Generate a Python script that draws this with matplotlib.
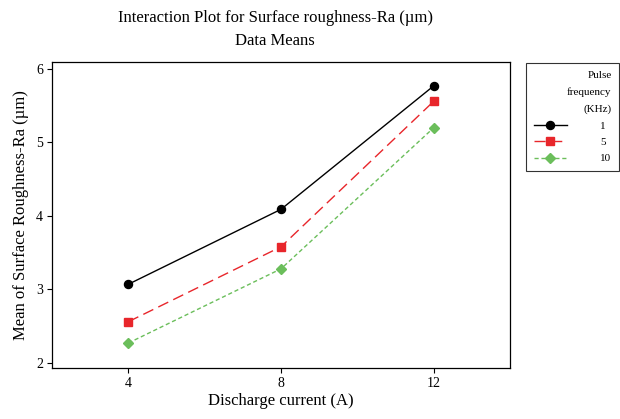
import matplotlib
matplotlib.use("Agg")
import matplotlib.pyplot as plt
import numpy as np

plt.rcParams['font.family'] = ['Liberation Serif', 'DejaVu Serif']

categories = ["4", "8", "12"]
freq_labels = ["1", "5", "10"]
means_1 = [3.07, 4.09, 5.77]
means_5 = [2.56, 3.58, 5.56]
means_10 = [2.27, 3.28, 5.20]

fig = plt.figure(figsize=(6.2, 4.19), dpi=100)
ax = fig.add_axes([0.0839, 0.1217, 0.7387, 0.7303])

x = np.arange(1, len(categories) + 1)
ax.plot(x, means_1, color='black', lw=1.0, ls='-', marker='o', ms=5.8, label=freq_labels[0])
ax.plot(x, means_5, color='#E8262B', lw=1.0, ls=(0, (8, 4)), marker='s', ms=5.5, label=freq_labels[1])
ax.plot(x, means_10, color='#6BBE5B', lw=1.0, ls=(0, (3, 2)), marker='D', ms=5.5, label=freq_labels[2])

ax.set_xlim(0.5, 3.5)
ax.set_ylim(1.93, 6.095)
ax.set_xticks(x)
ax.set_xticklabels(categories)
ax.set_yticks([2, 3, 4, 5, 6])
ax.tick_params(direction='out', length=3.5, width=0.8, labelsize=10, pad=3)
for s in ax.spines.values():
    s.set_linewidth(0.9)

ax.set_xlabel("Discharge current (A)", fontsize=12, labelpad=2)
ax.set_ylabel("Mean of Surface Roughness-Ra (µm)", fontsize=12, labelpad=5)
fig.text(0.444, 0.958, "Interaction Plot for Surface roughness-Ra (µm)", ha='center', va='center', fontsize=12)
fig.text(0.444, 0.903, "Data Means", ha='center', va='center', fontsize=12)

leg = fig.legend(loc='upper left', bbox_to_anchor=(526/620, 1 - 63/419),
                 title="Pulse\nfrequency\n(KHz)", fontsize=8, title_fontsize=8,
                 alignment='right', handlelength=3.0, handletextpad=3.0,
                 frameon=True, fancybox=False, edgecolor='black',
                 borderpad=0.7, labelspacing=0.6, borderaxespad=0)
leg.get_frame().set_linewidth(0.8)
leg.get_title().set_linespacing(2.0)
leg.get_title().set_multialignment('right')

fig.savefig("out.png", dpi=100)
